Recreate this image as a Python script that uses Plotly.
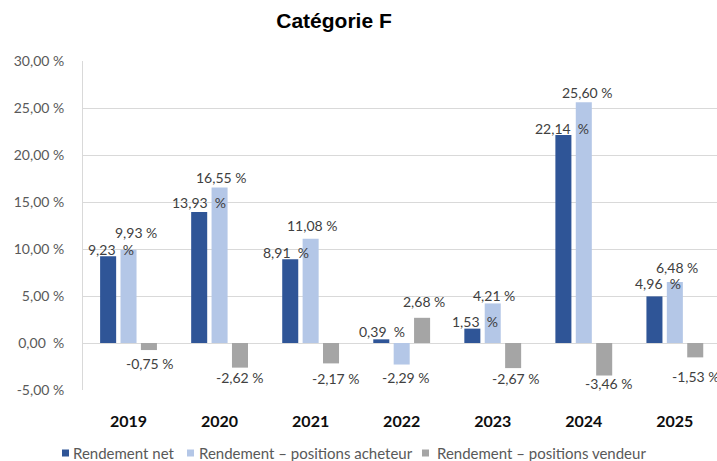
import plotly.graph_objects as go

# ---- data ----
years = ["2019", "2020", "2021", "2022", "2023", "2024", "2025"]
series_names = ["Rendement net", "Rendement \u2013 positions acheteur", "Rendement \u2013 positions vendeur"]
rendement_net = [9.23, 13.93, 8.91, 0.39, 1.53, 22.14, 4.96]
positions_acheteur = [9.93, 16.55, 11.08, -2.29, 4.21, 25.60, 6.48]
positions_vendeur = [-0.75, -2.62, -2.17, 2.68, -2.67, -3.46, -1.53]
y_ticks = [-5, 0, 5, 10, 15, 20, 25, 30]

# ---- styling ----
colors = ["#2F5597", "#B4C7E7", "#A5A5A5"]
FONT = "Lato, 'Open Sans', sans-serif"
W, H = 717, 461
L, T, B = 83, 61, 71
PW = W - L
PH = H - T - B

# label nudges (pixels): distance of label centre from bar end, and horizontal nudge
label_dy = [
    [7, 10, 7, 8, 7, 6, 13],
    [17, 10, 13, 13, 8, 10, 15],
    [13, 10, 15, 16, 10, 8, 19],
]
label_dx = [
    [3, 0, -4, 1, 3, -1, 3],
    [7, 1, 1, 4, 1, 3, 2],
    [1, 0, 5, 2, 3, 5, 1],
]
slot_px = 20.3


def fmt(v, double=False):
    s = f"{v:.2f}".replace(".", ",")
    return s + ("\u00a0\u00a0%" if double else "\u00a0%")


all_series = [rendement_net, positions_acheteur, positions_vendeur]

fig = go.Figure()
for name, vals, c in zip(series_names, all_series, colors):
    fig.add_trace(go.Bar(x=years, y=vals, name=name, marker=dict(color=c, line=dict(width=0)),
                         showlegend=False, hoverinfo="x+y"))

annotations = []
for si, vals in enumerate(all_series):
    for i, v in enumerate(vals):
        dy = label_dy[si][i]
        annotations.append(dict(
            x=i, y=v, xref="x", yref="y", text=fmt(v, double=(si == 0)),
            showarrow=False, xanchor="center", yanchor="middle",
            xshift=(si - 1) * slot_px + label_dx[si][i],
            yshift=dy if v >= 0 else -dy,
            font=dict(family=FONT, size=14, color="#404040"),
        ))


def px_x(p):
    return (p - L) / PW


def px_y(p):
    return 1 - (p - T) / PH


# custom legend
leg_marker_px = [62, 187, 422]
leg_text_px = [71, 197, 435]
leg_y = 453
shapes = []
for name, c, mx, tx in zip(series_names, colors, leg_marker_px, leg_text_px):
    shapes.append(dict(type="rect", xref="paper", yref="paper",
                       x0=px_x(mx), x1=px_x(mx + 7), y0=px_y(leg_y + 3.5), y1=px_y(leg_y - 3.5),
                       fillcolor=c, line=dict(width=0)))
    annotations.append(dict(x=px_x(tx), y=px_y(leg_y), xref="paper", yref="paper", text=name,
                            showarrow=False, xanchor="left", yanchor="middle",
                            font=dict(family=FONT, size=15, color="#595959")))

tick_text = [fmt(v) if v != 0 else "0,00\u00a0\u00a0%" for v in y_ticks]

fig.update_layout(
    width=W, height=H,
    margin=dict(l=L, r=0, t=T, b=B),
    paper_bgcolor="white", plot_bgcolor="white",
    barmode="group", bargap=0.328, bargroupgap=0.214,
    title=dict(text="<b>Catégorie F</b>", x=334 / W, xanchor="center", xref="container",
               y=1 - 21 / H, yanchor="middle", yref="container",
               font=dict(family="'Liberation Sans', Arial, sans-serif", size=21, color="#000000")),
    xaxis=dict(type="category", range=[-0.5, 6.463], showgrid=False, showline=False, zeroline=False,
               ticks="", ticklabelstandoff=20,
               tickfont=dict(family=FONT, size=16, color="#0d0d0d", weight="bold")),
    yaxis=dict(range=[-5, 30], tickvals=y_ticks, ticktext=tick_text,
               showgrid=True, gridcolor="#D9D9D9", gridwidth=1,
               zeroline=True, zerolinecolor="#D9D9D9", zerolinewidth=1,
               showline=True, linecolor="#D9D9D9", linewidth=1,
               ticks="", ticklabelstandoff=15,
               tickfont=dict(family=FONT, size=14, color="#595959")),
    annotations=annotations,
    shapes=shapes,
    showlegend=False,
)

fig.write_html("out.html", config={"displayModeBar": False},
               post_script="document.body.style.margin='0';")
